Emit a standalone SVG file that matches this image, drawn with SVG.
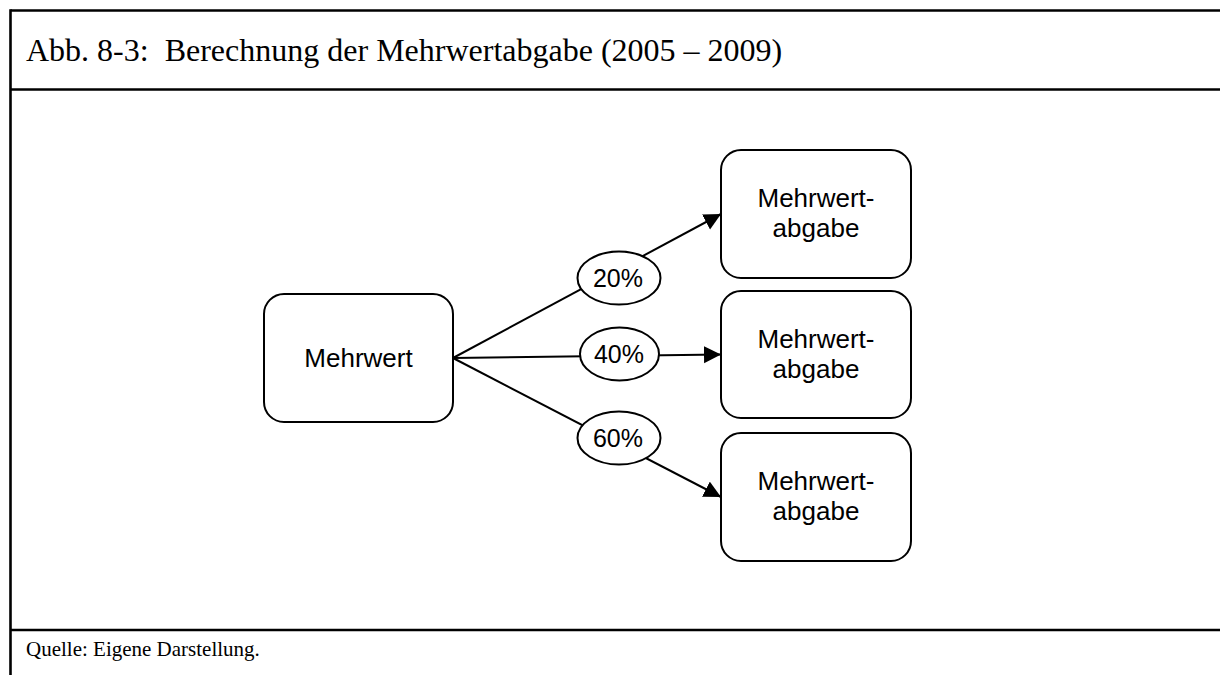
<svg xmlns="http://www.w3.org/2000/svg" width="1220" height="675" viewBox="0 0 1220 675">
  <style>
    .frame { stroke: #000; stroke-width: 2.6; fill: none; }
    .title { font-family: "Liberation Serif", "Times New Roman", serif; font-size: 32px; fill: #000; }
    .source { font-family: "Liberation Serif", "Times New Roman", serif; font-size: 21px; fill: #000; }
    .box { fill: #fff; stroke: #000; stroke-width: 2; }
    .label { font-family: "Liberation Sans", Arial, sans-serif; font-size: 26px; fill: #000; text-anchor: middle; }
    .pct { font-family: "Liberation Sans", Arial, sans-serif; font-size: 25px; fill: #000; text-anchor: middle; }
    .edge { stroke: #000; stroke-width: 2; fill: none; }
    .tag { fill: #fff; stroke: #000; stroke-width: 2; }
  </style>
  <defs>
    <marker id="arrow" markerUnits="userSpaceOnUse" markerWidth="18" markerHeight="18" refX="17" refY="8.5" orient="auto">
      <path d="M0,0 L17,8.5 L0,17 Z" fill="#000"/>
    </marker>
  </defs>

  <rect width="1220" height="675" fill="#fff"/>

  <!-- figure frame -->
  <g id="frame">
    <line class="frame" x1="10.5" y1="10.5" x2="1220" y2="10.5"/>
    <line class="frame" x1="10.5" y1="9.2" x2="10.5" y2="675"/>
    <line class="frame" x1="10.5" y1="89.5" x2="1220" y2="89.5"/>
    <line class="frame" x1="10.5" y1="630" x2="1220" y2="630"/>
    <text class="title" x="26" y="61" xml:space="preserve">Abb. 8-3:  Berechnung der Mehrwertabgabe (2005 – 2009)</text>
    <text class="source" x="26" y="656">Quelle: Eigene Darstellung.</text>
  </g>

  <!-- connectors with percentage labels -->
  <g id="connectors">
    <line class="edge" x1="453" y1="358" x2="721" y2="214" marker-end="url(#arrow)"/>
    <line class="edge" x1="453" y1="358" x2="721" y2="354.5" marker-end="url(#arrow)"/>
    <line class="edge" x1="453" y1="358" x2="721" y2="497" marker-end="url(#arrow)"/>

    <g id="rate-20">
      <ellipse class="tag" cx="619" cy="278" rx="41.5" ry="26.5"/>
      <text class="pct" x="618" y="287">20%</text>
    </g>
    <g id="rate-40">
      <ellipse class="tag" cx="619.5" cy="354" rx="39.5" ry="26.5"/>
      <text class="pct" x="619" y="363">40%</text>
    </g>
    <g id="rate-60">
      <ellipse class="tag" cx="619" cy="438" rx="41.5" ry="26.5"/>
      <text class="pct" x="618" y="447">60%</text>
    </g>
  </g>

  <!-- nodes -->
  <g id="mehrwert">
    <rect class="box" x="264" y="294" width="189" height="128" rx="20" ry="20"/>
    <text class="label" x="358.5" y="367">Mehrwert</text>
  </g>

  <g id="abgabe-20">
    <rect class="box" x="721" y="150" width="190" height="128" rx="20" ry="20"/>
    <text class="label" x="816" y="207">Mehrwert-</text>
    <text class="label" x="816" y="237">abgabe</text>
  </g>

  <g id="abgabe-40">
    <rect class="box" x="721" y="291" width="190" height="127" rx="20" ry="20"/>
    <text class="label" x="816" y="347.5">Mehrwert-</text>
    <text class="label" x="816" y="377.5">abgabe</text>
  </g>

  <g id="abgabe-60">
    <rect class="box" x="721" y="433" width="190" height="128" rx="20" ry="20"/>
    <text class="label" x="816" y="490">Mehrwert-</text>
    <text class="label" x="816" y="520">abgabe</text>
  </g>
</svg>
